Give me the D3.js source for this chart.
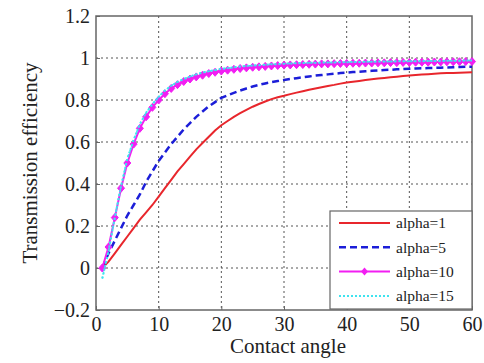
<!DOCTYPE html>
<html>
<head>
<meta charset="utf-8">
<script src="https://cdn.jsdelivr.net/npm/d3@7/dist/d3.min.js"></script>
<style>
  body { margin: 0; background: #fff; }
  text { font-family: "Liberation Serif", "Times New Roman", serif; fill: #222; }
</style>
</head>
<body>
<svg id="chart" width="484" height="363"></svg>
<script>
// x positions (contact angle)
const angles = d3.range(1, 61);

// alpha = 1
const alpha1 = [0.00,0.03,0.07,0.11,0.15,0.19,0.23,0.265,0.30,0.34,
  0.38,0.42,0.46,0.495,0.53,0.565,0.595,0.625,0.655,0.68,
  0.70,0.72,0.737,0.753,0.768,0.781,0.793,0.804,0.813,0.82,
  0.828,0.835,0.842,0.849,0.855,0.861,0.867,0.872,0.878,0.883,
  0.887,0.891,0.895,0.899,0.902,0.905,0.908,0.911,0.914,0.917,
  0.919,0.921,0.923,0.925,0.927,0.928,0.929,0.930,0.931,0.932];

// alpha = 5
const alpha5 = [0.00,0.07,0.13,0.19,0.25,0.30,0.35,0.41,0.46,0.51,
  0.55,0.59,0.625,0.66,0.69,0.72,0.745,0.77,0.79,0.81,
  0.822,0.834,0.845,0.855,0.864,0.872,0.879,0.885,0.89,0.895,
  0.90,0.904,0.908,0.912,0.916,0.919,0.922,0.925,0.928,0.93,
  0.933,0.935,0.937,0.939,0.941,0.943,0.944,0.946,0.947,0.949,
  0.95,0.951,0.952,0.953,0.954,0.955,0.956,0.957,0.958,0.958];

// alpha = 10
const alpha10 = [0.00,0.10,0.24,0.38,0.50,0.59,0.665,0.72,0.765,0.80,
  0.83,0.855,0.873,0.888,0.90,0.91,0.918,0.926,0.932,0.938,
  0.942,0.946,0.95,0.953,0.956,0.958,0.96,0.962,0.964,0.966,
  0.967,0.968,0.969,0.97,0.971,0.972,0.972,0.973,0.974,0.974,
  0.975,0.975,0.976,0.976,0.977,0.977,0.978,0.978,0.979,0.979,
  0.98,0.98,0.98,0.981,0.981,0.982,0.982,0.982,0.983,0.983];

// alpha = 15
const alpha15 = [-0.05,0.08,0.24,0.39,0.52,0.61,0.685,0.74,0.78,0.815,
  0.845,0.868,0.886,0.90,0.912,0.922,0.93,0.937,0.943,0.948,
  0.952,0.956,0.959,0.962,0.964,0.966,0.968,0.97,0.971,0.973,
  0.974,0.975,0.976,0.977,0.977,0.978,0.979,0.979,0.98,0.98,
  0.981,0.981,0.982,0.982,0.983,0.983,0.983,0.984,0.984,0.985,
  0.985,0.985,0.986,0.986,0.986,0.987,0.987,0.987,0.988,0.988];

const xTicks = [0, 10, 20, 30, 40, 50, 60];
const yTicks = [-0.2, 0, 0.2, 0.4, 0.6, 0.8, 1, 1.2];
const legendLabels = ["alpha=1", "alpha=5", "alpha=10", "alpha=15"];

const plotL = 96, plotR = 472, plotT = 16, plotB = 310;
const svg = d3.select("#chart");
const serif = "'Liberation Serif', 'Times New Roman', serif";

const x = d3.scaleLinear().domain([0, 60]).range([plotL, plotR]);
const y = d3.scaleLinear().domain([-0.2, 1.2]).range([plotB, plotT]);

// grid
const grid = svg.append("g")
  .attr("stroke", "#555").attr("stroke-width", 1).attr("stroke-dasharray", "2,3");
grid.selectAll(".gx").data(xTicks.slice(1, -1)).join("line")
  .attr("x1", d => x(d)).attr("x2", d => x(d)).attr("y1", plotT).attr("y2", plotB);
grid.selectAll(".gy").data(yTicks.slice(1, -1)).join("line")
  .attr("x1", plotL).attr("x2", plotR).attr("y1", d => y(d)).attr("y2", d => y(d));

// axes
const xAxis = svg.append("g").attr("transform", `translate(0,${plotB})`)
  .call(d3.axisBottom(x).tickValues(xTicks).tickSize(-4).tickPadding(5).tickFormat(d3.format("d")));
const yAxis = svg.append("g").attr("transform", `translate(${plotL},0)`)
  .call(d3.axisLeft(y).tickValues(yTicks).tickSize(-4).tickPadding(6)
    .tickFormat(d => d < 0 ? "\u2212" + Math.abs(d) : String(+d.toFixed(1))));
[xAxis, yAxis].forEach(a => {
  a.attr("font-family", null).attr("font-size", null);
  a.selectAll("text").attr("fill", "#222")
    .style("font-family", serif).style("font-size", "20px");
  a.selectAll("line").attr("stroke", "#666");
  a.select(".domain").remove();
});
xAxis.selectAll("text").attr("dy", "0.8em");

// frame
svg.append("rect").attr("x", plotL).attr("y", plotT)
  .attr("width", plotR - plotL).attr("height", plotB - plotT)
  .attr("fill", "none").attr("stroke", "#666").attr("stroke-width", 1.5);

const line = d3.line().x((d, i) => x(angles[i])).y(d => y(d));

const series = [
  { data: alpha1, color: "#e8262c", width: 2, dash: null },
  { data: alpha5, color: "#1c1ed8", width: 2.5, dash: "7,4" },
  { data: alpha10, color: "#f21ef2", width: 2, dash: null, marker: true },
  { data: alpha15, color: "#3fe3ef", width: 2, dash: "2,2" }
];

const diamond = (cx, cy) => `M${cx},${cy - 4}L${cx + 3.5},${cy}L${cx},${cy + 4}L${cx - 3.5},${cy}Z`;

series.forEach(s => {
  svg.append("path").datum(s.data)
    .attr("d", line).attr("fill", "none")
    .attr("stroke", s.color).attr("stroke-width", s.width)
    .attr("stroke-dasharray", s.dash);
  if (s.marker) {
    svg.append("g").selectAll("path").data(s.data).join("path")
      .attr("d", (d, i) => diamond(x(angles[i]), y(d)))
      .attr("fill", s.color).attr("stroke", s.color).attr("stroke-width", 1);
  }
});

// redraw cyan on top of markers, as in the original
svg.append("path").datum(alpha15)
  .attr("d", line).attr("fill", "none")
  .attr("stroke", "#3fe3ef").attr("stroke-width", 1.5).attr("stroke-dasharray", "2,3");

// legend
const lg = svg.append("g");
lg.append("rect").attr("x", 330).attr("y", 211).attr("width", 142).attr("height", 98)
  .attr("fill", "#fff").attr("stroke", "#666").attr("stroke-width", 1.2);
legendLabels.forEach((lab, i) => {
  const ly = 223 + i * 24.3;
  const s = series[i];
  lg.append("line").attr("x1", 339).attr("x2", 390).attr("y1", ly).attr("y2", ly)
    .attr("stroke", s.color).attr("stroke-width", s.width).attr("stroke-dasharray", s.dash);
  if (s.marker) lg.append("path").attr("d", diamond(364.5, ly)).attr("fill", s.color);
  lg.append("text").attr("x", 396).attr("y", ly).attr("dy", "0.35em")
    .style("font-size", "15.5px").text(lab);
});

// axis titles
svg.append("text").attr("x", 288).attr("y", 353).attr("text-anchor", "middle")
  .style("font-size", "21px").text("Contact angle");
svg.append("text").attr("transform", "translate(37,163) rotate(-90)")
  .attr("text-anchor", "middle").style("font-size", "21px").text("Transmission efficiency");
</script>
</body>
</html>
